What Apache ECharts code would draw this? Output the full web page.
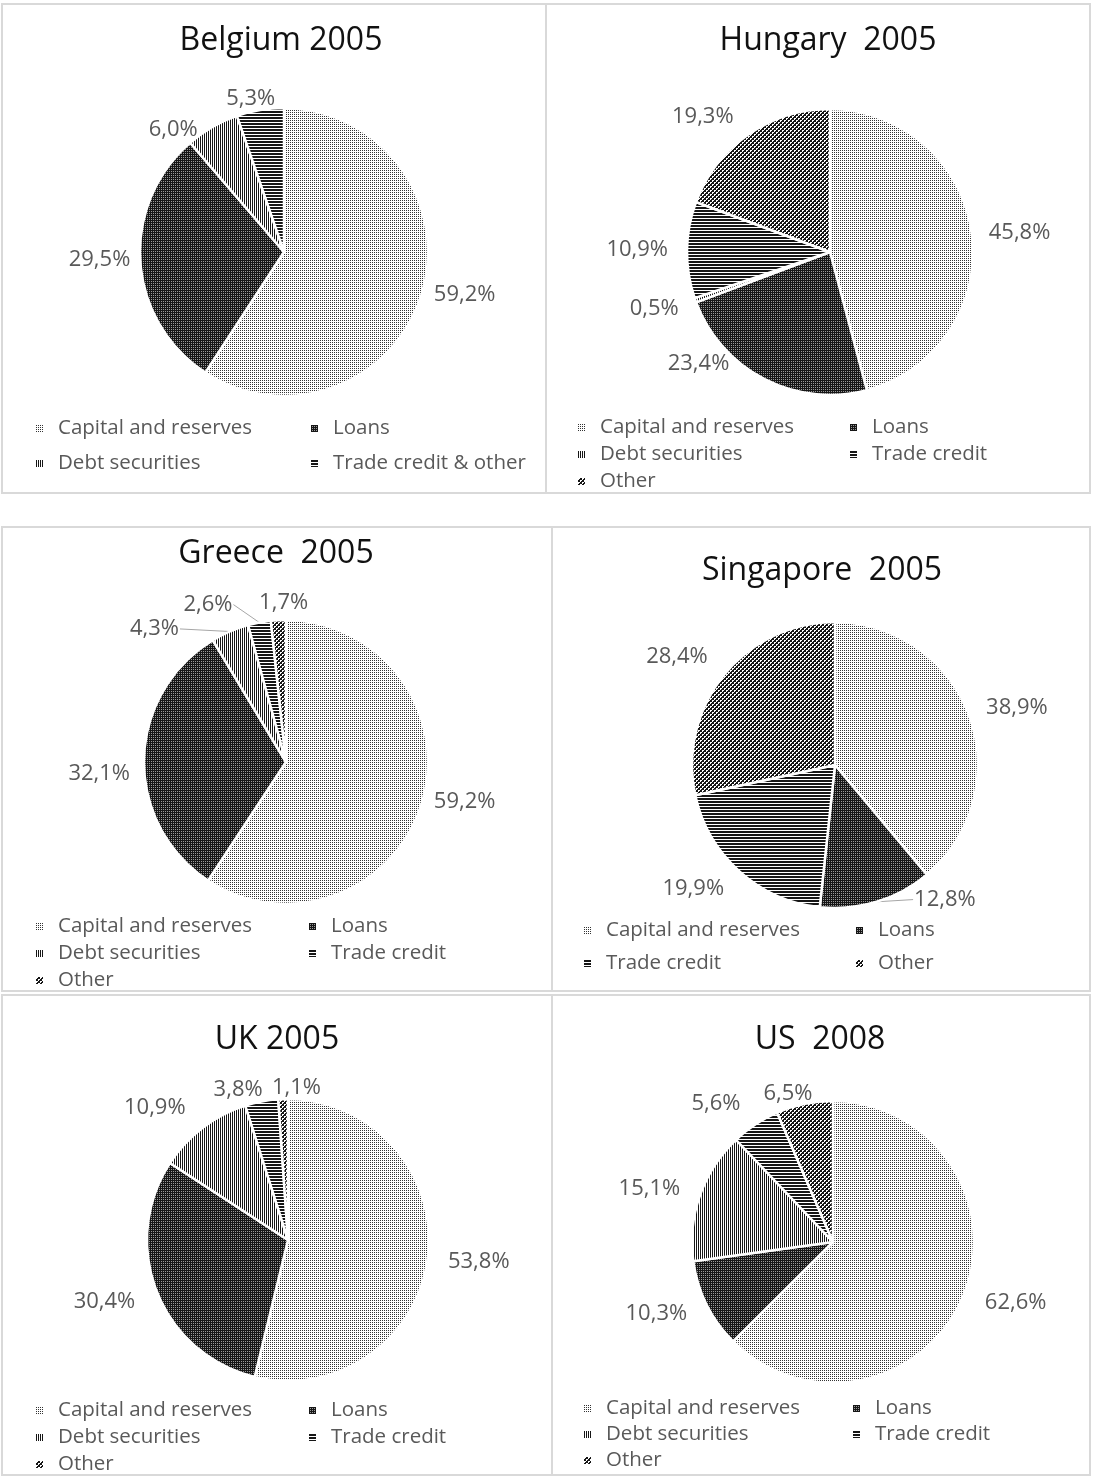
<!DOCTYPE html>
<html>
<head>
<meta charset="utf-8">
<script src="https://cdn.jsdelivr.net/npm/echarts@6/dist/echarts.min.js"></script>
<style>
  html, body { margin: 0; padding: 0; background: #fff; }
  #wrap { position: relative; width: 1093px; height: 1476px; overflow: hidden; }
  .p { position: absolute; border: 2px solid #d9d9d9; box-sizing: border-box; }
  #chart { position: absolute; left: 0; top: 0; width: 1093px; height: 1476px; }
</style>
</head>
<body>
<div id="wrap">
  <div class="p" style="left:1px;top:3px;width:546px;height:491px"></div>
  <div class="p" style="left:545px;top:3px;width:546px;height:491px"></div>
  <div class="p" style="left:1px;top:526px;width:552px;height:466px"></div>
  <div class="p" style="left:551px;top:526px;width:540px;height:466px"></div>
  <div class="p" style="left:1px;top:994px;width:552px;height:482px"></div>
  <div class="p" style="left:551px;top:994px;width:540px;height:482px"></div>
  <div id="chart"></div>
</div>
<script>
// ---------------- data ----------------
const titles = ['Belgium 2005', 'Hungary  2005', 'Greece  2005', 'Singapore  2005', 'UK 2005', 'US  2008'];

const belgiumNames = ['Capital and reserves', 'Loans', 'Debt securities', 'Trade credit & other'];
const belgiumValues = [59.2, 29.5, 6.0, 5.3];

const hungaryNames = ['Capital and reserves', 'Loans', 'Debt securities', 'Trade credit', 'Other'];
const hungaryValues = [45.8, 23.4, 0.5, 10.9, 19.3];

const greeceNames = ['Capital and reserves', 'Loans', 'Debt securities', 'Trade credit', 'Other'];
const greeceValues = [59.2, 32.1, 4.3, 2.6, 1.7];

const singaporeNames = ['Capital and reserves', 'Loans', 'Trade credit', 'Other'];
const singaporeValues = [38.9, 12.8, 19.9, 28.4];

const ukNames = ['Capital and reserves', 'Loans', 'Debt securities', 'Trade credit', 'Other'];
const ukValues = [53.8, 30.4, 10.9, 3.8, 1.1];

const usNames = ['Capital and reserves', 'Loans', 'Debt securities', 'Trade credit', 'Other'];
const usValues = [62.6, 10.3, 15.1, 5.6, 6.5];

// ---------------- patterns ----------------
function tile(rows, pal) {
  const h = rows.length, w = rows[0].length;
  const c = document.createElement('canvas');
  c.width = w; c.height = h;
  const ctx = c.getContext('2d');
  for (let y = 0; y < h; y++) for (let x = 0; x < w; x++) {
    ctx.fillStyle = pal[rows[y][x]];
    ctx.fillRect(x, y, 1, 1);
  }
  return { image: c, repeat: 'repeat' };
}
const PAL = { D: '#161616', K: '#333333', W: '#ffffff', G: '#9a9a9a' };
const patCapital = tile(['KW', 'WW'], PAL);
const patLoans = tile(['DD', 'DG'], PAL);
const patDebt = tile(['DW'], PAL);
const patTrade = tile(['D', 'D', 'W'], PAL);
const patOther = tile(['WWDD', 'WDDD', 'DDWW', 'DDWD'], PAL);
const patternFor = {
  'Capital and reserves': patCapital,
  'Loans': patLoans,
  'Debt securities': patDebt,
  'Trade credit': patTrade,
  'Trade credit & other': patTrade,
  'Other': patOther
};

// ---------------- layout (positions / styles) ----------------
const FONT = '"Open Sans", "Noto Sans", sans-serif';
const panels = [
  { names: belgiumNames, values: belgiumValues, center: [284, 252], r: 144, title: [281, 41],
    legend: { left: 36, top: 428, row: 34, col: 275 } },
  { names: hungaryNames, values: hungaryValues, center: [830, 252], r: 143, title: [828, 41],
    legend: { left: 578, top: 427, row: 26, col: 272 } },
  { names: greeceNames, values: greeceValues, center: [286, 762], r: 142, title: [276, 554],
    legend: { left: 36, top: 926, row: 26, col: 273 } },
  { names: singaporeNames, values: singaporeValues, center: [835, 765], r: 143, title: [822, 571],
    legend: { left: 584, top: 930, row: 32, col: 272 } },
  { names: ukNames, values: ukValues, center: [288, 1240], r: 141, title: [277, 1040],
    legend: { left: 36, top: 1410, row: 26, col: 273 } },
  { names: usNames, values: usValues, center: [833, 1242], r: 141, title: [820, 1040],
    legend: { left: 584, top: 1408, row: 25, col: 269 } }
];

// label nudges (seriesIndex-dataIndex -> [dx, dy])
const nudge = {
  '0-0': [-5, 0], '0-1': [7, -2], '0-2': [0, 7], '0-3': [28, -6],
  '1-1': [-21, -20], '1-2': [0, 7], '1-3': [-2, 0], '1-4': [0, -14],
  '2-0': [-5, -2], '2-1': [3, 15], '2-2': [-37, 2], '2-3': [-14, -13], '2-4': [42, -12],
  '3-0': [0, -7], '3-1': [24, -7], '3-2': [0, 14], '3-3': [0, -15],
  '4-0': [3, 4], '4-1': [-5, 8], '4-2': [-2, -16], '4-3': [14, -7], '4-4': [50, -6],
  '5-0': [5, 5], '5-1': [-3, 7], '5-2': [-3, -5], '5-3': [0, -16], '5-4': [21, -5]
};
const withLine = { '2-2': true, '2-3': true, '3-1': true };

const LH = 20;
const option = {
  animation: false,
  backgroundColor: 'transparent',
  title: panels.map((p, i) => ({
    text: titles[i],
    left: p.title[0],
    top: p.title[1] - 20,
    textAlign: 'center',
    padding: 0,
    textStyle: { fontFamily: FONT, fontSize: 32, fontWeight: 'normal', color: '#111', lineHeight: 40 }
  })),
  legend: panels.map((p, i) => {
    const gap = p.legend.row - LH;
    return {
      data: p.names,
      orient: 'horizontal',
      left: p.legend.left,
      top: p.legend.top - LH / 2,
      width: p.legend.col * 2 + 10,
      padding: 0,
      itemGap: gap,
      itemWidth: 7,
      itemHeight: 7,
      icon: 'rect',
      selectedMode: false,
      itemStyle: { borderWidth: 0 },
      textStyle: {
        fontFamily: FONT, fontSize: 20.5, color: '#595959',
        lineHeight: LH, width: p.legend.col - 7 - 5 - 10 - gap,
        padding: [0, 0, 0, 10]
      }
    };
  }),
  series: panels.map((p, si) => ({
    type: 'pie',
    center: p.center,
    radius: p.r,
    startAngle: 90,
    clockwise: true,
    avoidLabelOverlap: false,
    minShowLabelAngle: 0,
    itemStyle: { borderColor: '#fff', borderWidth: 2.5 },
    emphasis: { disabled: true },
    label: {
      show: true,
      position: 'outside',
      fontFamily: FONT, fontSize: 22, color: '#595959',
      distanceToLabelLine: 4,
      formatter: (d) => d.value.toFixed(1).replace('.', ',') + '%'
    },
    labelLine: { show: false, length: 5, length2: 8, lineStyle: { color: '#a6a6a6', width: 1 } },
    labelLayout: (params) => {
      const k = si + '-' + params.dataIndex;
      const n = nudge[k] || [0, 0];
      const res = { dx: n[0], dy: n[1] };
      if (withLine[k] && params.labelLinePoints && params.labelLinePoints.length) {
        const r = params.labelRect;
        const p0 = params.labelLinePoints[0];
        const x = r.x + n[0], y = r.y + n[1];
        const cy = y + r.height / 2;
        const ex = (p0[0] > x + r.width) ? x + r.width + 1 : x - 1;
        res.labelLinePoints = [[p0[0], p0[1]], [ex, cy], [ex, cy]];
      }
      return res;
    },
    data: p.names.map((name, di) => ({
      name: name,
      value: p.values[di],
      itemStyle: { color: patternFor[name] },
      labelLine: { show: !!withLine[si + '-' + di] }
    }))
  }))
};

const chart = echarts.init(document.getElementById('chart'), null, { renderer: 'canvas' });
chart.setOption(option);
</script>
</body>
</html>
